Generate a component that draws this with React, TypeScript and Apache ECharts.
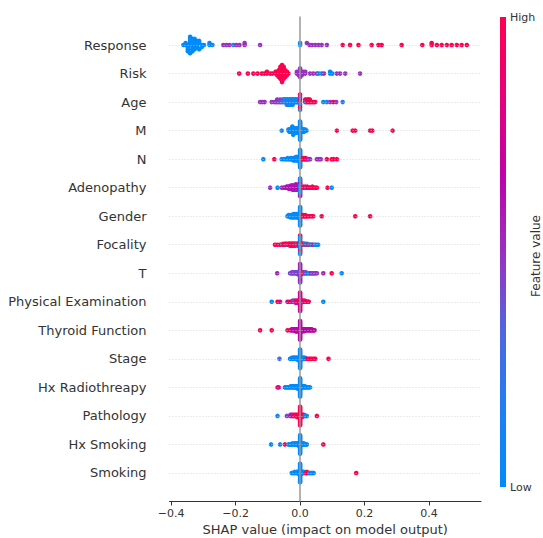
import React, { useEffect, useRef } from "react";
import * as echarts from "echarts";

// Features, top to bottom
const FEATURES = [
  "Response", "Risk", "Age", "M", "N", "Adenopathy", "Gender", "Focality", "T",
  "Physical Examination", "Thyroid Function", "Stage", "Hx Radiothreapy",
  "Pathology", "Hx Smoking", "Smoking",
];

// Each entry: [SHAP value, normalized feature value (0 = low, 1 = high), number of samples]
const response = [
  [-0.362, 0, 1], [-0.355, 0, 2], [-0.348, 0, 4], [-0.341, 0, 5], [-0.334, 0, 7], [-0.327, 0, 6],
  [-0.32, 0, 4], [-0.313, 0, 3], [-0.305, 0, 2], [-0.298, 0, 1], [-0.281, 0, 2], [-0.272, 0.1, 1],
  [-0.238, 0.5, 1], [-0.228, 0.5, 1], [-0.219, 0.5, 1], [-0.207, 0.1, 1], [-0.198, 0.5, 1],
  [-0.188, 0.5, 1], [-0.172, 0.5, 2], [-0.124, 0.5, 1], [0, 0, 2],
  [0.021, 0.5, 1], [0.029, 0.5, 1], [0.037, 0.5, 1], [0.047, 0.5, 1], [0.057, 0.5, 1], [0.067, 0.5, 1], [0.083, 0.5, 1],
  [0.132, 1, 1], [0.155, 1, 1], [0.181, 1, 1], [0.222, 1, 1], [0.243, 1, 1], [0.253, 1, 1], [0.315, 1, 1],
  [0.379, 1, 1], [0.408, 1, 2], [0.424, 1, 1], [0.439, 1, 1], [0.455, 1, 1], [0.47, 1, 1], [0.486, 1, 1],
  [0.501, 1, 1], [0.517, 1, 1],
];
const risk = [
  [-0.189, 1, 1], [-0.162, 1, 1], [-0.145, 1, 1], [-0.132, 1, 1], [-0.119, 1, 1], [-0.111, 1, 1],
  [-0.103, 1, 2], [-0.093, 1, 1], [-0.086, 1, 1],
  [-0.076, 1, 2], [-0.071, 1, 3], [-0.066, 1, 5], [-0.061, 1, 8], [-0.056, 1, 11], [-0.051, 1, 8],
  [-0.046, 1, 5], [-0.041, 1, 3], [-0.036, 1, 1],
  [-0.01, 0.5, 2], [-0.004, 0.5, 3], [0, 0.5, 6], [0.005, 0.5, 3], [0.01, 0.5, 2], [0.016, 0.5, 2],
  [0.031, 0.5, 1], [0.041, 0.5, 1], [0.052, 0.5, 1], [0.058, 0, 1], [0.067, 0, 1], [0.074, 0.5, 1],
  [0.093, 0, 2], [0.1, 0, 1], [0.114, 0.5, 1], [0.124, 0.5, 1], [0.14, 0.5, 1], [0.186, 0.5, 1],
];
const age = [
  [-0.124, 0.5, 1], [-0.117, 0.5, 1], [-0.11, 0.5, 1], [-0.088, 0.5, 1], [-0.08, 0.45, 1], [-0.075, 0.5, 1],
  [-0.071, 0.5, 2], [-0.066, 0.4, 1], [-0.062, 0.45, 2], [-0.058, 0.35, 1], [-0.054, 0.4, 2], [-0.05, 0.3, 2],
  [-0.047, 0.25, 2], [-0.044, 0, 2], [-0.041, 0.3, 3], [-0.038, 0, 3], [-0.035, 0.1, 3], [-0.032, 0, 3],
  [-0.029, 0.2, 3], [-0.026, 0, 3], [-0.023, 0, 3], [-0.02, 0.3, 2], [-0.017, 0, 2], [-0.014, 0, 2],
  [-0.011, 0, 2], [-0.008, 0.2, 2], [-0.005, 0, 2],
  [0, 0, 2], [0, 1, 3], [0, 0.5, 2],
  [0.016, 1, 2], [0.019, 0, 1], [0.022, 1, 2], [0.026, 1, 2], [0.03, 1, 2], [0.034, 1, 1], [0.038, 1, 1],
  [0.043, 1, 1], [0.047, 1, 1],
  [0.072, 0, 1], [0.083, 0, 1], [0.093, 0.5, 1], [0.103, 1, 1], [0.112, 0.5, 1], [0.132, 0.2, 1],
];
const mStage = [
  [-0.057, 0, 1],
  [-0.036, 0, 2], [-0.033, 0, 3], [-0.03, 0, 3], [-0.027, 0, 4], [-0.024, 0, 4], [-0.021, 0, 5],
  [-0.018, 0, 5], [-0.015, 0, 5], [-0.012, 0, 5], [-0.009, 0, 5], [-0.006, 0, 5], [-0.003, 0, 4],
  [0, 0, 19],
  [0.004, 0, 4], [0.008, 0, 3], [0.012, 0, 3], [0.016, 0, 2], [0.02, 0, 1],
  [0.114, 1, 1], [0.163, 1, 1], [0.171, 1, 1], [0.217, 1, 1], [0.224, 1, 1], [0.287, 1, 1],
];
const nStage = [
  [-0.114, 0, 1], [-0.08, 1, 1], [-0.057, 0, 1], [-0.05, 0, 1], [-0.044, 0, 1], [-0.039, 0, 2],
  [-0.034, 0, 1], [-0.03, 0, 2], [-0.026, 0, 2], [-0.022, 0, 3], [-0.019, 0, 3], [-0.016, 0, 3],
  [-0.013, 0, 4], [-0.01, 0, 4], [-0.007, 0, 4], [-0.004, 0, 5],
  [0, 0, 18],
  [0.004, 0, 2], [0.008, 1, 2], [0.011, 1, 2], [0.014, 1, 2], [0.017, 1, 2], [0.02, 1, 1], [0.023, 1, 1],
  [0.026, 0.5, 1], [0.031, 0.5, 1], [0.052, 0.5, 1], [0.058, 0.5, 1], [0.064, 0.5, 1],
  [0.083, 1, 1], [0.098, 1, 1], [0.104, 1, 1], [0.114, 1, 1],
];
const adenopathy = [
  [-0.093, 0.5, 1], [-0.07, 0, 1], [-0.057, 0.5, 1], [-0.051, 0.55, 1], [-0.046, 0.6, 1], [-0.042, 0.6, 2],
  [-0.038, 0.6, 2], [-0.035, 0.6, 3], [-0.032, 0.6, 3], [-0.029, 0.6, 4], [-0.026, 0.6, 4], [-0.023, 0.6, 5],
  [-0.02, 0.6, 5], [-0.017, 0.6, 5], [-0.014, 0.6, 6], [-0.011, 0.6, 6], [-0.008, 0.6, 5], [-0.005, 0.6, 5],
  [0, 0.6, 11], [0, 0, 7],
  [0.01, 1, 2], [0.013, 1, 1], [0.016, 1, 2], [0.019, 0.5, 1], [0.022, 1, 2], [0.026, 1, 1], [0.03, 1, 1],
  [0.034, 1, 1], [0.038, 1, 2], [0.042, 1, 1], [0.047, 1, 1], [0.052, 1, 1],
  [0.085, 1, 1], [0.098, 0, 1],
];
const gender = [
  [-0.039, 0, 1], [-0.036, 0, 2], [-0.033, 0, 2], [-0.03, 0, 3], [-0.027, 0, 3], [-0.024, 0, 3],
  [-0.021, 0, 4], [-0.018, 0, 4], [-0.015, 0, 4], [-0.012, 0, 4], [-0.009, 0, 4], [-0.006, 0, 4], [-0.003, 0, 5],
  [0, 0, 19],
  [0.003, 0, 2], [0.008, 1, 2], [0.011, 1, 2], [0.014, 1, 1], [0.017, 1, 2], [0.02, 1, 1], [0.023, 1, 1],
  [0.027, 1, 1], [0.031, 1, 1], [0.036, 1, 1], [0.041, 1, 1],
  [0.067, 1, 1], [0.171, 1, 1], [0.217, 1, 1],
];
const focality = [
  [-0.078, 1, 1], [-0.07, 1, 1],
  [-0.062, 1, 1], [-0.058, 1, 1], [-0.055, 0, 1], [-0.052, 1, 2], [-0.049, 1, 1], [-0.046, 1, 2],
  [-0.043, 1, 2], [-0.04, 0, 1], [-0.037, 1, 2], [-0.034, 1, 2], [-0.031, 1, 3], [-0.028, 1, 2],
  [-0.025, 1, 3], [-0.022, 1, 3], [-0.019, 1, 2], [-0.016, 1, 3], [-0.013, 1, 2], [-0.01, 0, 2],
  [-0.007, 1, 3], [-0.004, 1, 3],
  [0, 1, 11], [0, 0, 8],
  [0.003, 0, 2], [0.006, 1, 2], [0.009, 0, 2], [0.012, 1, 2], [0.015, 0, 2], [0.018, 1, 1], [0.021, 0, 2],
  [0.024, 1, 1], [0.027, 0, 1], [0.03, 1, 1], [0.033, 0, 1], [0.036, 0, 1], [0.04, 1, 1], [0.045, 0, 1],
  [0.05, 0, 1], [0.056, 0, 1],
];
const tStage = [
  [-0.071, 0.55, 1],
  [-0.031, 0.45, 1], [-0.028, 0.4, 1], [-0.025, 0.45, 2], [-0.022, 0.4, 2], [-0.019, 0.45, 2], [-0.016, 0.4, 2],
  [-0.013, 0.45, 2], [-0.01, 0.4, 2], [-0.007, 0.45, 3], [-0.004, 0.4, 3],
  [0, 0.42, 15], [0, 0.6, 4],
  [0.003, 0.45, 3], [0.006, 1, 2], [0.009, 0.4, 2], [0.012, 1, 2], [0.015, 0.45, 2], [0.018, 0.4, 2],
  [0.021, 0.5, 1], [0.024, 0, 1], [0.027, 0, 1], [0.03, 0, 1], [0.033, 0.5, 1], [0.036, 0.45, 1],
  [0.039, 0.5, 1], [0.042, 0.45, 1], [0.045, 0.5, 1], [0.048, 0.45, 1], [0.052, 0.5, 1],
  [0.072, 0.55, 1], [0.098, 1, 1], [0.129, 0, 1],
];
const physicalExam = [
  [-0.088, 0, 1], [-0.07, 1, 1], [-0.062, 0.8, 1], [-0.039, 0.7, 1], [-0.033, 1, 1],
  [-0.026, 1, 1], [-0.023, 0.7, 2], [-0.02, 0.45, 2], [-0.017, 0.45, 2], [-0.014, 0.5, 3], [-0.011, 1, 2],
  [-0.008, 0.7, 3], [-0.005, 1, 3],
  [0, 1, 13], [0, 0.65, 6],
  [0.003, 1, 3], [0.006, 0.7, 2], [0.009, 1, 2], [0.012, 0.7, 2], [0.015, 1, 2], [0.018, 1, 1],
  [0.021, 0.7, 1], [0.024, 1, 1], [0.027, 1, 1],
  [0.072, 0, 1],
];
const thyroidFunction = [
  [-0.124, 1, 1], [-0.088, 1, 1], [-0.039, 1, 1], [-0.031, 1, 1],
  [-0.026, 0.65, 2], [-0.023, 0.65, 2], [-0.02, 0.65, 2], [-0.017, 0.65, 2], [-0.014, 0.65, 3],
  [-0.011, 0.65, 3], [-0.008, 0.65, 3], [-0.005, 0.65, 2], [-0.003, 1, 1],
  [0, 0.65, 19],
  [0.003, 0.65, 3], [0.006, 0.65, 3], [0.009, 0.65, 2], [0.012, 0.65, 3], [0.015, 0.65, 2], [0.018, 0.65, 2],
  [0.021, 0.65, 2], [0.024, 0.65, 2], [0.027, 0.65, 2], [0.03, 0.65, 2], [0.033, 0.65, 2], [0.036, 0.65, 2],
  [0.039, 0.65, 1], [0.042, 0.65, 1], [0.045, 0.65, 1],
];
const stage = [
  [-0.064, 0.3, 1],
  [-0.031, 0, 1], [-0.028, 0, 1], [-0.025, 0, 2], [-0.022, 0, 2], [-0.019, 0, 2], [-0.016, 0, 2],
  [-0.013, 0, 2], [-0.01, 0, 2], [-0.007, 0, 3], [-0.004, 0, 3],
  [0, 0, 19],
  [0.003, 0, 3], [0.006, 0, 2], [0.009, 0, 2], [0.012, 0, 2], [0.015, 0, 2], [0.018, 0, 1],
  [0.021, 1, 1], [0.026, 1, 1], [0.031, 1, 1], [0.036, 1, 1], [0.042, 1, 1], [0.047, 1, 1], [0.088, 1, 1],
];
const hxRadiotherapy = [
  [-0.07, 1, 1], [-0.066, 0.8, 1], [-0.047, 1, 1],
  [-0.044, 0, 1], [-0.041, 0, 1], [-0.038, 0, 1], [-0.035, 0, 1], [-0.032, 0, 1], [-0.029, 0, 2],
  [-0.026, 0, 2], [-0.023, 0, 2], [-0.02, 0, 2], [-0.017, 0, 2], [-0.014, 0, 2], [-0.011, 0, 2],
  [-0.008, 0, 3], [-0.005, 0, 3],
  [0, 0, 19],
  [0.003, 0, 3], [0.006, 0, 2], [0.009, 0, 2], [0.012, 0, 2], [0.015, 0, 2], [0.018, 0, 1],
  [0.021, 0, 1], [0.024, 0, 1], [0.027, 0, 1], [0.031, 0, 1],
];
const pathology = [
  [-0.07, 0, 1], [-0.041, 0.45, 1], [-0.03, 0.55, 2], [-0.027, 0.6, 2], [-0.024, 0.55, 2], [-0.021, 0.6, 2],
  [-0.018, 1, 2], [-0.015, 1, 2], [-0.012, 1, 2], [-0.009, 1, 3], [-0.006, 1, 3], [-0.003, 1, 3],
  [0, 1, 19],
  [0.003, 1, 3], [0.006, 1, 3], [0.009, 1, 2], [0.012, 1, 2], [0.015, 0, 1], [0.018, 0, 1], [0.021, 0, 1],
  [0.052, 1, 1],
];
const hxSmoking = [
  [-0.09, 0, 1], [-0.062, 0, 1], [-0.047, 1, 1],
  [-0.036, 0, 1], [-0.033, 0, 1], [-0.03, 0, 1], [-0.027, 0, 1], [-0.024, 0, 2], [-0.021, 0, 1],
  [-0.018, 0, 2], [-0.015, 0, 2], [-0.012, 0, 2], [-0.009, 0, 2], [-0.006, 0, 3], [-0.003, 0, 3],
  [0, 0, 19],
  [0.003, 0, 3], [0.006, 0, 2], [0.009, 0, 2], [0.012, 0, 2], [0.015, 0, 1], [0.018, 0, 1], [0.021, 0, 1],
  [0.072, 1, 1],
];
const smoking = [
  [-0.026, 0, 1], [-0.023, 0, 1], [-0.02, 0, 1], [-0.017, 0, 2], [-0.014, 0, 1], [-0.011, 0, 2],
  [-0.008, 0, 2], [-0.005, 0, 2], [-0.003, 0, 3],
  [0, 0, 19],
  [0.003, 0, 3], [0.006, 0, 2], [0.009, 0, 2], [0.012, 0, 2], [0.015, 0, 1], [0.018, 1, 1], [0.021, 1, 2],
  [0.024, 1, 1], [0.027, 1, 1], [0.03, 0, 1], [0.033, 0, 1], [0.036, 0, 1], [0.039, 0, 1], [0.042, 0, 1],
  [0.174, 1, 1],
];

const ROWS = [
  response, risk, age, mStage, nStage, adenopathy, gender, focality, tStage,
  physicalExam, thyroidFunction, stage, hxRadiotherapy, pathology, hxSmoking, smoking,
];

const X_TICKS = [-0.4, -0.2, 0, 0.2, 0.4];
const COLORMAP = ["#008bfb", "#1f7ef5", "#5066e0", "#9a30c0", "#c000a8", "#e8007a", "#ff0051"];

// SHAP-style beeswarm layout (binning + alternating stacking, deterministic tie order)
function swarmOffsets(shaps: number[], rowHeight = 0.4): number[] {
  const n = shaps.length;
  const mn = Math.min(...shaps);
  const mx = Math.max(...shaps);
  const nbins = 100;
  const quant = shaps.map((s) => Math.round((nbins * (s - mn)) / (mx - mn + 1e-8)));
  const key = (i: number) => ((i + 1) * 2654435761) % 4294967296;
  const inds = shaps.map((_, i) => i).sort((a, b) => quant[a] - quant[b] || key(a) - key(b));
  const ys = new Array(n).fill(0);
  let layer = 0;
  let last = -1;
  for (const i of inds) {
    if (quant[i] !== last) layer = 0;
    ys[i] = Math.ceil(layer / 2) * ((layer % 2) * 2 - 1);
    layer += 1;
    last = quant[i];
  }
  const m = Math.max(...ys) + 1;
  return ys.map((y) => y * 0.9 * (rowHeight / m));
}

function buildPoints() {
  const pts: number[][] = [];
  const nRows = ROWS.length;
  ROWS.forEach((groups, idx) => {
    const pos = nRows - 1 - idx;
    const shaps: number[] = [];
    const cols: number[] = [];
    groups.forEach(([v, c, k]) => {
      for (let j = 0; j < k; j++) {
        shaps.push(v);
        cols.push(c);
      }
    });
    const ys = swarmOffsets(shaps);
    shaps.forEach((s, i) => pts.push([s, pos + ys[i], cols[i]]));
  });
  return pts;
}

const fmtTick = (v: number) => (v < 0 ? "\u2212" : "") + Math.abs(v).toFixed(1);

export default function App() {
  const ref = useRef<HTMLDivElement>(null);
  useEffect(() => {
    if (!ref.current) return;
    const chart = echarts.init(ref.current, null, { renderer: "svg" });
    const nRows = FEATURES.length;
    const gridLines = FEATURES.map((_, i) => ({ yAxis: i }));
    const barTop = 17;
    const barH = 470;
    chart.setOption({
      animation: false,
      backgroundColor: "#ffffff",
      textStyle: { fontFamily: "DejaVu Sans" },
      grid: {
        left: 169.5,
        right: 62,
        top: 16.5,
        bottom: 36.5,
        containLabel: false,
        outerBoundsMode: "none",
      },
      xAxis: {
        type: "value",
        min: -0.405,
        max: 0.561,
        name: "SHAP value (impact on model output)",
        nameLocation: "middle",
        nameGap: 19,
        nameTextStyle: { fontSize: 13, color: "#333333", fontFamily: "DejaVu Sans" },
        axisLine: { show: true, onZero: false, lineStyle: { color: "#333333", width: 1 } },
        axisTick: { show: true, length: 4, customValues: X_TICKS, lineStyle: { color: "#333333" } },
        axisLabel: {
          customValues: X_TICKS,
          formatter: (v: number) => fmtTick(v),
          fontSize: 11,
          color: "#333333",
          margin: 6,
          fontFamily: "DejaVu Sans",
        },
        splitLine: { show: false },
      },
      yAxis: {
        type: "value",
        min: -1,
        max: nRows,
        interval: 1,
        axisLine: { show: false },
        axisTick: { show: false },
        splitLine: { show: false },
        axisLabel: {
          fontSize: 13,
          color: "#333333",
          margin: 23,
          fontFamily: "DejaVu Sans",
          formatter: (v: number) => {
            const i = nRows - 1 - Math.round(v);
            return i >= 0 && i < nRows ? FEATURES[i] : "";
          },
        },
      },
      visualMap: {
        show: false,
        type: "continuous",
        dimension: 2,
        seriesIndex: 1,
        min: 0,
        max: 1,
        inRange: { color: COLORMAP },
      },
      series: [
        {
          type: "scatter",
          data: [],
          z: 1,
          silent: true,
          markLine: {
            silent: true,
            symbol: ["none", "none"],
            label: { show: false },
            data: [
              ...gridLines.map((d) => ({ ...d, lineStyle: { color: "#cccccc", width: 0.8, type: [1, 2] } })),
              { xAxis: 0, lineStyle: { color: "#999999", width: 1.5, type: "solid" } },
            ],
          },
        },
        {
          type: "scatter",
          z: 2,
          symbolSize: 4.6,
          data: buildPoints(),
          itemStyle: { opacity: 1 },
        },
      ],
      graphic: [
        {
          type: "rect",
          shape: { x: 500, y: barTop, width: 6, height: barH },
          style: {
            fill: new echarts.graphic.LinearGradient(
              0, 1, 0, 0,
              COLORMAP.map((c, i) => ({ offset: i / (COLORMAP.length - 1), color: c }))
            ),
          },
        },
        {
          type: "text",
          x: 510,
          y: barTop,
          style: { text: "High", fontSize: 11, fill: "#333333", verticalAlign: "middle", fontFamily: "DejaVu Sans" },
        },
        {
          type: "text",
          x: 510,
          y: barTop + barH,
          style: { text: "Low", fontSize: 11, fill: "#333333", verticalAlign: "middle", fontFamily: "DejaVu Sans" },
        },
        {
          type: "text",
          x: 536,
          y: barTop + barH / 2 + 4,
          rotation: Math.PI / 2,
          style: {
            text: "Feature value",
            fontSize: 12,
            fill: "#333333",
            align: "center",
            verticalAlign: "middle",
            fontFamily: "DejaVu Sans",
          },
        },
      ],
    });
    return () => chart.dispose();
  }, []);
  return (
    <div
      ref={ref}
      style={{ position: "fixed", left: 0, top: 0, width: 543, height: 538, background: "#fff" }}
    />
  );
}
